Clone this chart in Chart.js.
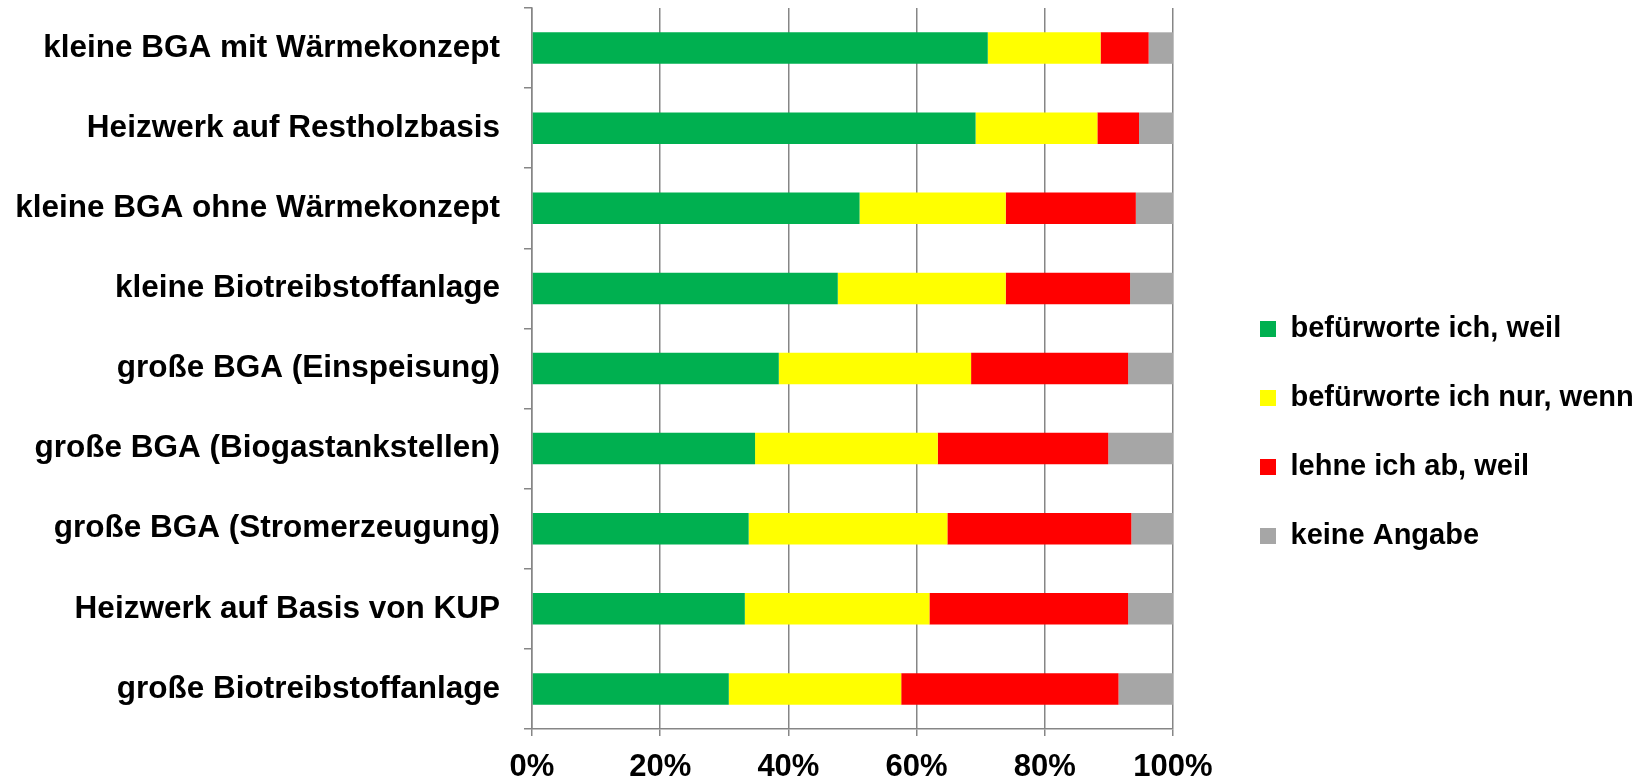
<!DOCTYPE html>
<html>
<head>
<meta charset="utf-8">
<script src="https://cdn.jsdelivr.net/npm/chart.js@4/dist/chart.umd.min.js"></script>
<style>
    html, body { margin: 0; padding: 0; background: #fff; }
    #wrap { width: 1645px; height: 784px; }
</style>
</head>
<body>
<div id="wrap"><canvas id="bar_chart"></canvas></div>
<script>
var categories = [
    'kleine BGA mit Wärmekonzept',
    'Heizwerk auf Restholzbasis',
    'kleine BGA ohne Wärmekonzept',
    'kleine Biotreibstoffanlage',
    'große BGA (Einspeisung)',
    'große BGA (Biogastankstellen)',
    'große BGA (Stromerzeugung)',
    'Heizwerk auf Basis von KUP',
    'große Biotreibstoffanlage'
];
var befuerworte = [71.1, 69.2, 51.1, 47.7, 38.5, 34.8, 33.8, 33.2, 30.7];
var nurWenn     = [17.6, 19.0, 22.8, 26.2, 30.0, 28.5, 31.0, 28.8, 26.9];
var lehneAb     = [7.5, 6.5, 20.3, 19.4, 24.5, 26.6, 28.7, 31.0, 33.9];
var keineAngabe = [3.8, 5.3, 5.8, 6.7, 7.0, 10.1, 6.5, 7.0, 8.5];
var seriesNames = ['befürworte ich, weil', 'befürworte ich nur, wenn', 'lehne ich ab, weil', 'keine Angabe'];

var fontFam = "'Liberation Sans', Arial, sans-serif";
var axisGrey = '#868686';

function ds(i, values, color) {
    return {
        label: seriesNames[i],
        data: values,
        backgroundColor: color,
        borderWidth: 0,
        barPercentage: 0.393,
        categoryPercentage: 1
    };
}

new Chart(document.getElementById('bar_chart').getContext('2d'), {
    type: 'bar',
    data: {
        labels: categories,
        datasets: [
            ds(0, befuerworte, '#00b050'),
            ds(1, nurWenn, '#ffff00'),
            ds(2, lehneAb, '#ff0000'),
            ds(3, keineAngabe, '#a6a6a6')
        ]
    },
    options: {
        indexAxis: 'y',
        responsive: true,
        maintainAspectRatio: false,
        animation: false,
        layout: { padding: { left: 15, top: 8, right: 5, bottom: 0 } },
        scales: {
            x: {
                stacked: true,
                min: 0,
                max: 100,
                ticks: {
                    stepSize: 20,
                    padding: 14,
                    color: '#000',
                    font: { family: fontFam, size: 31, weight: 'bold', lineHeight: 1.1 },
                    callback: function (v) { return v + '%'; }
                },
                grid: { color: axisGrey, lineWidth: 1.5, tickLength: 7 },
                border: { color: axisGrey, width: 1.5 },
                afterFit: function (s) { s.height = 55; }
            },
            y: {
                stacked: true,
                ticks: {
                    padding: 24,
                    color: '#000',
                    font: { family: fontFam, size: 31.5, weight: 'bold' }
                },
                grid: { drawOnChartArea: false, color: axisGrey, lineWidth: 1.5, tickLength: 8 },
                border: { color: axisGrey, width: 1.5 },
                afterFit: function (s) {
                    s.width = 517;
                    s.paddingTop = 0;
                    s.paddingBottom = 0;
                }
            },
            // empty spacer between plot and legend
            yR: {
                type: 'category',
                position: 'right',
                grid: { display: false },
                border: { display: false },
                ticks: { display: false },
                afterFit: function (s) { s.width = 47; }
            }
        },
        plugins: {
            tooltip: { enabled: false },
            legend: {
                position: 'right',
                align: 'start',
                maxWidth: 420,
                title: { display: true, text: '', font: { size: 10, lineHeight: 1 }, padding: { top: 0, bottom: 256.5 } },
                labels: {
                    boxWidth: 16,
                    boxHeight: 16,
                    padding: 40,
                    color: '#000',
                    font: { family: fontFam, size: 29, weight: 'bold' }
                }
            }
        }
    }
});
</script>
</body>
</html>
